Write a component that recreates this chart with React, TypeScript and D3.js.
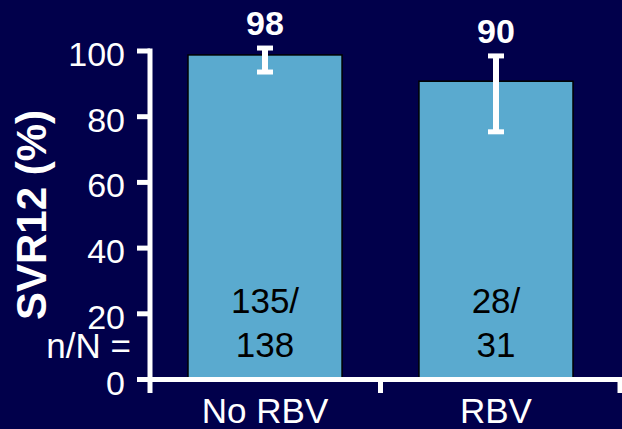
import React from "react";
import * as d3 from "d3";

const categories = ["No RBV", "RBV"];
const svrValues = [98.8, 90.8];
const errLower = [93.6, 75.4];
const errUpper = [100.9, 98.5];
const valueLabels = ["98", "90"];
const nLabels = ["135/", "28/"];
const NLabels = ["138", "31"];
const yTicks = [0, 20, 40, 60, 80, 100];

const W = 622;
const H = 429;
const BG = "#01004b";
const BAR = "#5aaacf";
const FONT = "'Liberation Sans', Arial, sans-serif";

export default function App() {
  const x = d3.scaleBand<string>().domain(categories).range([150, 611]).paddingInner(0.333).paddingOuter(0.1645);
  const y = d3.scaleLinear().domain([0, 100]).range([379.5, 51]);
  const axisX = 150;
  const axisEnd = 620;
  const y0 = y(0);
  const gap = x.step() - x.bandwidth();
  const tickXs = [x(categories[0])! + x.bandwidth() + gap / 2, axisEnd];

  return (
    <svg width={W} height={H} style={{ position: "absolute", left: 0, top: 0, display: "block" }}>
      <rect x={0} y={0} width={W} height={H} fill={BG} />
      {categories.map((c, i) => (
        <rect
          key={c}
          x={x(c)!}
          y={y(svrValues[i])}
          width={x.bandwidth()}
          height={y0 - y(svrValues[i])}
          fill={BAR}
          stroke="#000"
          strokeWidth={1.5}
        />
      ))}
      {categories.map((c, i) => {
        const cx = x(c)! + x.bandwidth() / 2;
        return (
          <g key={"n" + c} fontFamily={FONT} fontSize={35} fill="#000" textAnchor="middle">
            <text x={cx} y={313}>{nLabels[i]}</text>
            <text x={cx} y={357}>{NLabels[i]}</text>
          </g>
        );
      })}
      {categories.map((c, i) => {
        const cx = x(c)! + x.bandwidth() / 2;
        const yt = y(errUpper[i]);
        const yb = y(errLower[i]);
        return (
          <g key={"e" + c} stroke="#fff" strokeWidth={5}>
            <line x1={cx} x2={cx} y1={yt} y2={yb} strokeWidth={6} />
            <line x1={cx - 8} x2={cx + 8} y1={yt} y2={yt} />
            <line x1={cx - 8} x2={cx + 8} y1={yb} y2={yb} />
          </g>
        );
      })}
      {categories.map((c, i) => {
        const cx = x(c)! + x.bandwidth() / 2;
        return (
          <text
            key={"v" + c}
            x={cx}
            y={y(errUpper[i]) - 13}
            fontFamily={FONT}
            fontSize={34}
            fontWeight="bold"
            fill="#fff"
            textAnchor="middle"
          >
            {valueLabels[i]}
          </text>
        );
      })}
      <line x1={axisX} x2={axisX} y1={y(100) - 2.5} y2={393} stroke="#fff" strokeWidth={5} />
      {yTicks.map((t) => (
        <g key={t}>
          <line x1={137} x2={axisX} y1={y(t)} y2={y(t)} stroke="#fff" strokeWidth={5} />
          <text x={125} y={y(t) + 15} fontFamily={FONT} fontSize={34} fill="#fff" textAnchor="end">
            {t}
          </text>
        </g>
      ))}
      <line x1={axisX} x2={W} y1={y0} y2={y0} stroke="#fff" strokeWidth={5} />
      {tickXs.map((bx, i) => (
        <line key={i} x1={bx} x2={bx} y1={y0} y2={393} stroke="#fff" strokeWidth={5} />
      ))}
      {categories.map((c) => (
        <text
          key={"x" + c}
          x={x(c)! + x.bandwidth() / 2}
          y={423}
          fontFamily={FONT}
          fontSize={35}
          fill="#fff"
          textAnchor="middle"
        >
          {c}
        </text>
      ))}
      <text x={131} y={358} fontFamily={FONT} fontSize={35} fill="#fff" textAnchor="end">
        n/N =
      </text>
      <text
        transform={`translate(46,215) rotate(-90)`}
        fontFamily={FONT}
        fontSize={42}
        fontWeight="bold"
        fill="#fff"
        textAnchor="middle"
      >
        SVR12 (%)
      </text>
    </svg>
  );
}
